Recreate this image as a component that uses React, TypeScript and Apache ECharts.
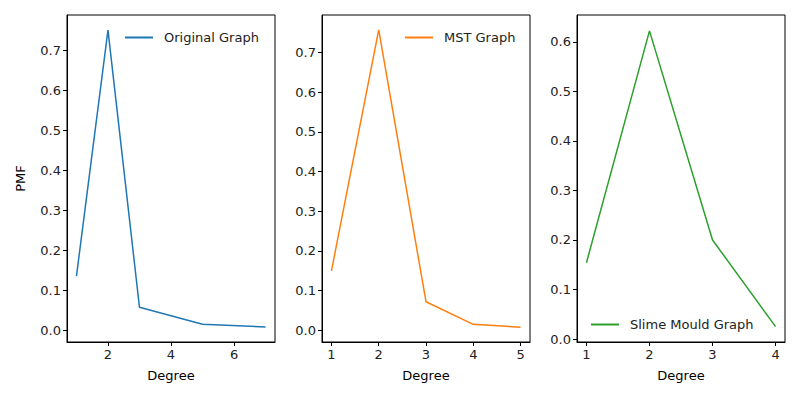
import { useEffect, useRef } from 'react'
import * as echarts from 'echarts'

const origX = [1, 2, 3, 5, 7]
const origY = [0.135, 0.75, 0.057, 0.015, 0.008]
const mstX = [1, 2, 3, 4, 5]
const mstY = [0.15, 0.757, 0.072, 0.015, 0.008]
const slimeX = [1, 2, 3, 4]
const slimeY = [0.154, 0.622, 0.2, 0.025]

const names = ['Original Graph', 'MST Graph', 'Slime Mould Graph']
const colors = ['#1f77b4', '#ff7f0e', '#2ca02c']
const xTicks = [[2, 4, 6], [1, 2, 3, 4, 5], [1, 2, 3, 4]]
const yTicks = [
  [0, 0.1, 0.2, 0.3, 0.4, 0.5, 0.6, 0.7],
  [0, 0.1, 0.2, 0.3, 0.4, 0.5, 0.6, 0.7],
  [0, 0.1, 0.2, 0.3, 0.4, 0.5, 0.6],
]

const font = 'DejaVu Sans'

export default function App() {
  const rootRef = useRef<HTMLDivElement | null>(null)
  useEffect(() => {
    if (!rootRef.current) return
    const chart = echarts.init(rootRef.current, null, { renderer: 'svg' })
    const grids = [
      { left: 67, right: 525, top: 15, bottom: 58 },
      { left: 322, right: 270, top: 15, bottom: 58 },
      { left: 577, right: 15, top: 15, bottom: 58 },
    ].map((g) => ({ ...g, show: true, borderColor: '#000', borderWidth: 1 }))
    const xr = [[0.7, 7.3], [0.8, 5.2], [0.85, 4.15]]
    const yr = [[-0.0296, 0.7876], [-0.0294, 0.7942], [-0.006, 0.654]]
    const data = [[origX, origY], [mstX, mstY], [slimeX, slimeY]]
    const tickStyle = { color: '#222', fontSize: 13, fontFamily: font }
    chart.setOption({
      animation: false,
      textStyle: { fontFamily: font },
      grid: grids,
      xAxis: grids.map((_, i) => ({
        type: 'value', gridIndex: i, min: xr[i][0], max: xr[i][1],
        name: 'Degree', nameLocation: 'middle', nameGap: 27,
        nameTextStyle: { color: '#000', fontSize: 13, fontFamily: font },
        splitLine: { show: false },
        axisLine: { show: true, onZero: false, lineStyle: { color: '#000' } },
        axisTick: { show: true, length: 4, lineStyle: { color: '#000' }, customValues: xTicks[i] },
        axisLabel: { ...tickStyle, margin: 6, customValues: xTicks[i] },
      })),
      yAxis: grids.map((_, i) => ({
        type: 'value', gridIndex: i, min: yr[i][0], max: yr[i][1],
        name: i === 0 ? 'PMF' : '', nameLocation: 'middle', nameGap: 40,
        nameTextStyle: { color: '#000', fontSize: 13, fontFamily: font },
        splitLine: { show: false },
        axisLine: { show: true, onZero: false, lineStyle: { color: '#000' } },
        axisTick: { show: true, length: 4, lineStyle: { color: '#000' }, customValues: yTicks[i] },
        axisLabel: { ...tickStyle, margin: 6, formatter: (v: number) => v.toFixed(1), customValues: yTicks[i] },
      })),
      legend: [
        { data: [names[0]], left: 120, top: 26 },
        { data: [names[1]], left: 400, top: 26 },
        { data: [names[2]], left: 586, top: 313 },
      ].map((l) => ({
        ...l, icon: 'rect', itemWidth: 28, itemHeight: 2, itemGap: 8,
        textStyle: { color: '#222', fontSize: 13, fontFamily: font, padding: [0, 0, 0, 6] },
      })),
      series: data.map((d, i) => ({
        type: 'line', name: names[i], xAxisIndex: i, yAxisIndex: i,
        data: d[0].map((x, j) => [x, d[1][j]]),
        showSymbol: false, color: colors[i], lineStyle: { width: 1.5, color: colors[i] },
      })),
    })
    return () => chart.dispose()
  }, [])

  return <div ref={rootRef} style={{ position: 'absolute', left: 0, top: 0, width: 800, height: 400 }} />
}
